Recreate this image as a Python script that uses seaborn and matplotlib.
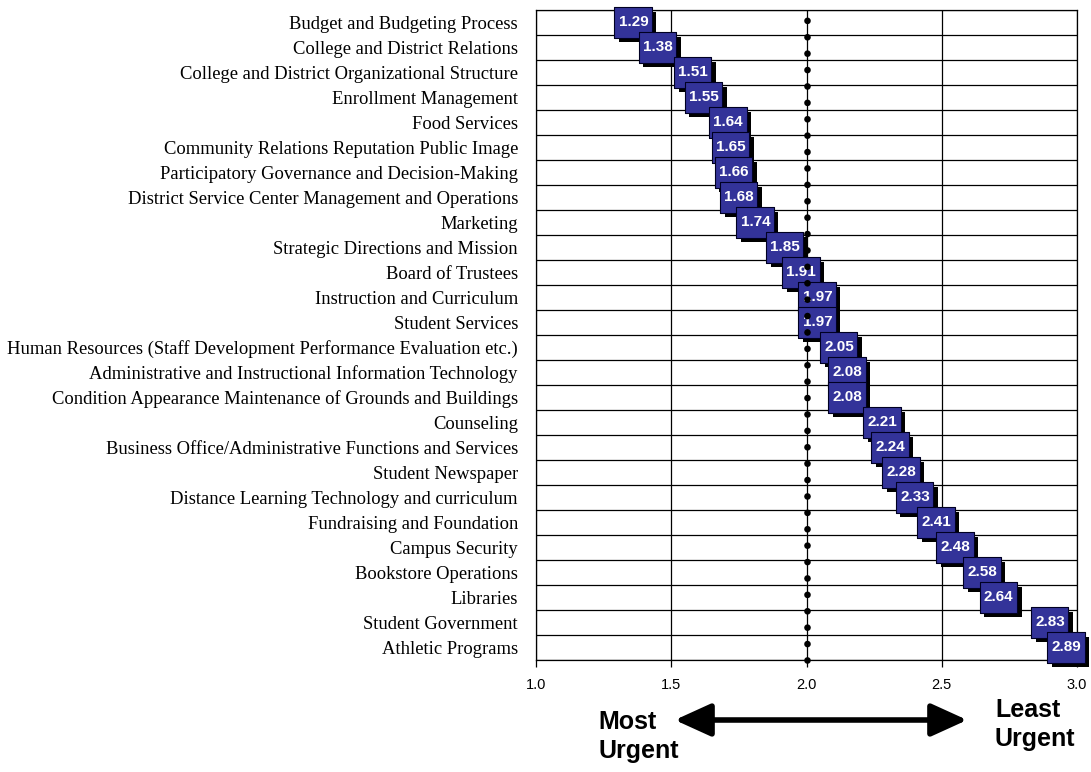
import numpy as np
import pandas as pd
import matplotlib.pyplot as plt
import seaborn as sns
from matplotlib import patheffects
from matplotlib.patches import FancyArrowPatch

areas = [
    'Budget and Budgeting Process',
    'College and District Relations',
    'College and District Organizational Structure',
    'Enrollment Management',
    'Food Services',
    'Community Relations Reputation Public Image',
    'Participatory Governance and Decision-Making',
    'District Service Center Management and Operations',
    'Marketing',
    'Strategic Directions and Mission',
    'Board of Trustees',
    'Instruction and Curriculum',
    'Student Services',
    'Human Resources (Staff Development Performance Evaluation etc.)',
    'Administrative and Instructional Information Technology',
    'Condition Appearance Maintenance of Grounds and Buildings',
    'Counseling',
    'Business Office/Administrative Functions and Services',
    'Student Newspaper',
    'Distance Learning Technology and curriculum',
    'Fundraising and Foundation',
    'Campus Security',
    'Bookstore Operations',
    'Libraries',
    'Student Government',
    'Athletic Programs',
]
scores = [1.29, 1.38, 1.51, 1.55, 1.64, 1.65, 1.66, 1.68, 1.74, 1.85, 1.91, 1.97, 1.97,
          2.05, 2.08, 2.08, 2.21, 2.24, 2.28, 2.33, 2.41, 2.48, 2.58, 2.64, 2.83, 2.89]
x_ticks = [1.0, 1.5, 2.0, 2.5, 3.0]


def generate_plot(df):
    '''Urgency chart with shadowed value boxes'''
    sns.set_theme(style='white')
    plt.rcParams['font.family'] = ['Liberation Sans', 'DejaVu Sans']
    plt.rcParams['text.color'] = 'black'

    fig = plt.figure(figsize=(10.91, 7.72), dpi=100)
    ax = fig.add_axes([536 / 1091, 1 - 660 / 772, 541 / 1091, 650 / 772])
    n = len(df)

    # box marker whose left edge sits on the data value
    box = [(0, -0.41), (1, -0.41), (1, 0.41), (0, 0.41), (0, -0.41)]
    sns.scatterplot(data=df, x='score', y='pos', marker=box, s=2900,
                    color='#333399', edgecolor='#000022', linewidth=0.8,
                    ax=ax, legend=False, zorder=3, clip_on=False)
    ax.collections[-1].set_path_effects([
        patheffects.SimplePatchShadow(offset=(3.3, -3.3), shadow_rgbFace='black', alpha=1),
        patheffects.Normal()])

    for i, v in zip(df['pos'], df['score']):
        ax.annotate(f'{v:.2f}', (v, i), xytext=(13.8, 0.5), textcoords='offset points',
                    ha='center', va='center', color='white', fontweight='bold',
                    fontsize=11, zorder=4, annotation_clip=False)

    # dotted reference line at 2.0
    ax.axvline(2.0, color='black', lw=4.8, linestyle=(0, (0.01, 2.45)),
               dash_capstyle='round', zorder=6, clip_on=False)

    ax.set_xlim(1.0, 3.0)
    ax.set_ylim(n - 0.5, -0.5)
    ax.set_xticks(x_ticks)
    ax.set_xticklabels([f'{t:.1f}' for t in x_ticks], fontsize=10.5)
    ax.set_yticks(df['pos'])
    ax.set_yticklabels(df['area'], family=['Liberation Serif', 'DejaVu Serif'], fontsize=13.4)
    ax.set_yticks(np.arange(-0.5, n), minor=True)
    ax.grid(which='minor', axis='y', color='black', lw=0.9)
    ax.grid(which='major', axis='x', color='black', lw=0.9)
    ax.set_axisbelow(True)
    ax.tick_params(axis='y', which='both', length=0, pad=13, colors='black')
    ax.tick_params(axis='x', length=5, width=0.9, direction='out', pad=8,
                   bottom=True, colors='black', labelcolor='black')
    for sp in ax.spines.values():
        sp.set_color('black')
        sp.set_linewidth(0.9)
    ax.set_xlabel('')
    ax.set_ylabel('')

    # urgency arrow under the axis
    fig.patches.append(FancyArrowPatch(
        (672 / 1091, 1 - 720 / 772), (970 / 1091, 1 - 720 / 772),
        transform=fig.transFigure, arrowstyle='<|-|>,head_length=1.1,head_width=0.5',
        mutation_scale=20, lw=4, color='black'))
    fig.text(598 / 1091, 1 - 710 / 772, 'Most\nUrgent', ha='left', va='top',
             fontsize=18, fontweight='bold', linespacing=1.25, color='black')
    fig.text(995 / 1091, 1 - 698 / 772, 'Least\nUrgent', ha='left', va='top',
             fontsize=18, fontweight='bold', linespacing=1.25, color='black')

    fig.savefig('out.png', dpi=100)


def main():
    df = pd.DataFrame({'area': areas, 'score': scores, 'pos': np.arange(len(areas))})
    generate_plot(df)


if __name__ == '__main__':
    main()
